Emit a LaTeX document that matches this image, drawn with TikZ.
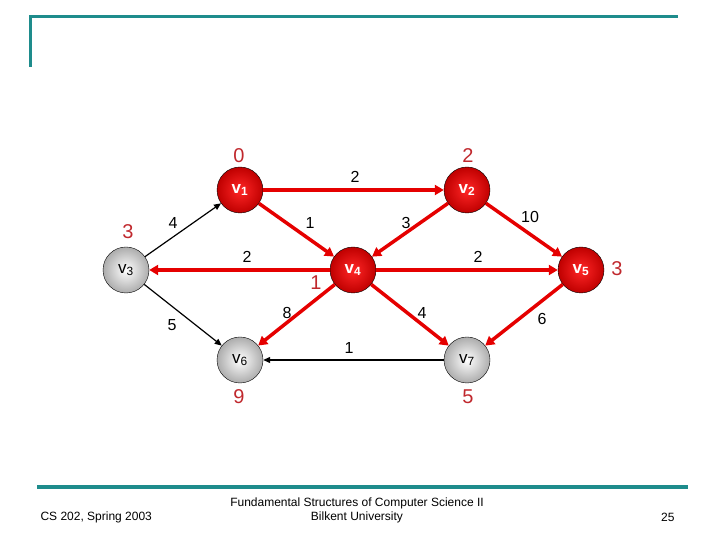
\documentclass[tikz,border=0pt]{standalone}
\usepackage{fontspec}
\setmainfont{Liberation Sans}
\usetikzlibrary{arrows.meta}
\definecolor{slideteal}{HTML}{1E8C8C}
\definecolor{distred}{HTML}{C0282D}
\tikzset{
  known/.style={circle,draw=black,thin,shading=radial,inner color=red!85!white,outer color=red!75!black,minimum size=46pt,inner sep=0pt,text=white,font=\bfseries\fontsize{17}{17}\selectfont},
  unknown/.style={circle,draw=black,thin,shading=radial,inner color=white,outer color=gray!65,minimum size=46pt,inner sep=0pt,text=black,font=\fontsize{17}{17}\selectfont},
  redarc/.style={draw=red!90!black,line width=3.5pt,-{Triangle[length=9pt,width=10pt]}},
  blackarc/.style={draw=black,line width=1.2pt,-{Triangle[length=7pt,width=6pt]}},
  dist/.style={text=distred,font=\fontsize{20}{20}\selectfont},
  wt/.style={font=\fontsize{16}{16}\selectfont},
  foot/.style={font=\fontsize{12}{14}\selectfont,align=center}
}
\begin{document}
\begin{tikzpicture}[x=1pt,y=1pt]
\useasboundingbox (0,0) rectangle (720,540);
% slide frame
\draw[slideteal,line width=3pt] (30,473) -- (30,523) -- (678,523);
\draw[slideteal,line width=3.5pt] (37,53) -- (688,53);
% vertices
\node[known] (v1) at (240,350) {v\textsubscript{1}};
\node[known] (v2) at (467,350) {v\textsubscript{2}};
\node[unknown] (v3) at (126,270) {v\textsubscript{3}};
\node[known] (v4) at (353,270) {v\textsubscript{4}};
\node[known] (v5) at (581,270) {v\textsubscript{5}};
\node[unknown] (v6) at (240,180) {v\textsubscript{6}};
\node[unknown] (v7) at (467,180) {v\textsubscript{7}};
% distances
\node[dist] (d1) at (239,384) {0};
\node[dist] (d2) at (468,384) {2};
\node[dist] (d3) at (128,308) {3};
\node[dist] (d4) at (316,257) {1};
\node[dist] (d5) at (617,271) {3};
\node[dist] (d6) at (239,143) {9};
\node[dist] (d7) at (468,143) {5};
% edges
\draw[redarc] (v1) -- (v2);
\draw[redarc] (v1) -- (v4);
\draw[redarc] (v2) -- (v4);
\draw[redarc] (v2) -- (v5);
\draw[redarc] (v4) -- (v3);
\draw[redarc] (v4) -- (v5);
\draw[redarc] (v4) -- (v6);
\draw[redarc] (v4) -- (v7);
\draw[redarc] (v5) -- (v7);
\draw[blackarc] (v3) -- (v1);
\draw[blackarc] (v3) -- (v6);
\draw[blackarc] (v7) -- (v6);
% weights
\node[wt] (w12) at (355,363) {2};
\node[wt] (w31) at (173,317) {4};
\node[wt] (w14) at (310,317) {1};
\node[wt] (w24) at (406,317) {3};
\node[wt] (w25) at (530,323) {10};
\node[wt] (w43) at (247,283) {2};
\node[wt] (w45) at (478,283) {2};
\node[wt] (w46) at (287,227) {8};
\node[wt] (w47) at (422,227) {4};
\node[wt] (w57) at (542,221) {6};
\node[wt] (w36) at (172,215) {5};
\node[wt] (w76) at (349,192) {1};
% footer
\node[foot,anchor=west] (course) at (37,23) {CS 202, Spring 2003};
\node[foot] (title) at (357,30) {Fundamental Structures of Computer Science II\\Bilkent University};
\node[foot,anchor=east] (page) at (678,23) {25};
\end{tikzpicture}
\end{document}
